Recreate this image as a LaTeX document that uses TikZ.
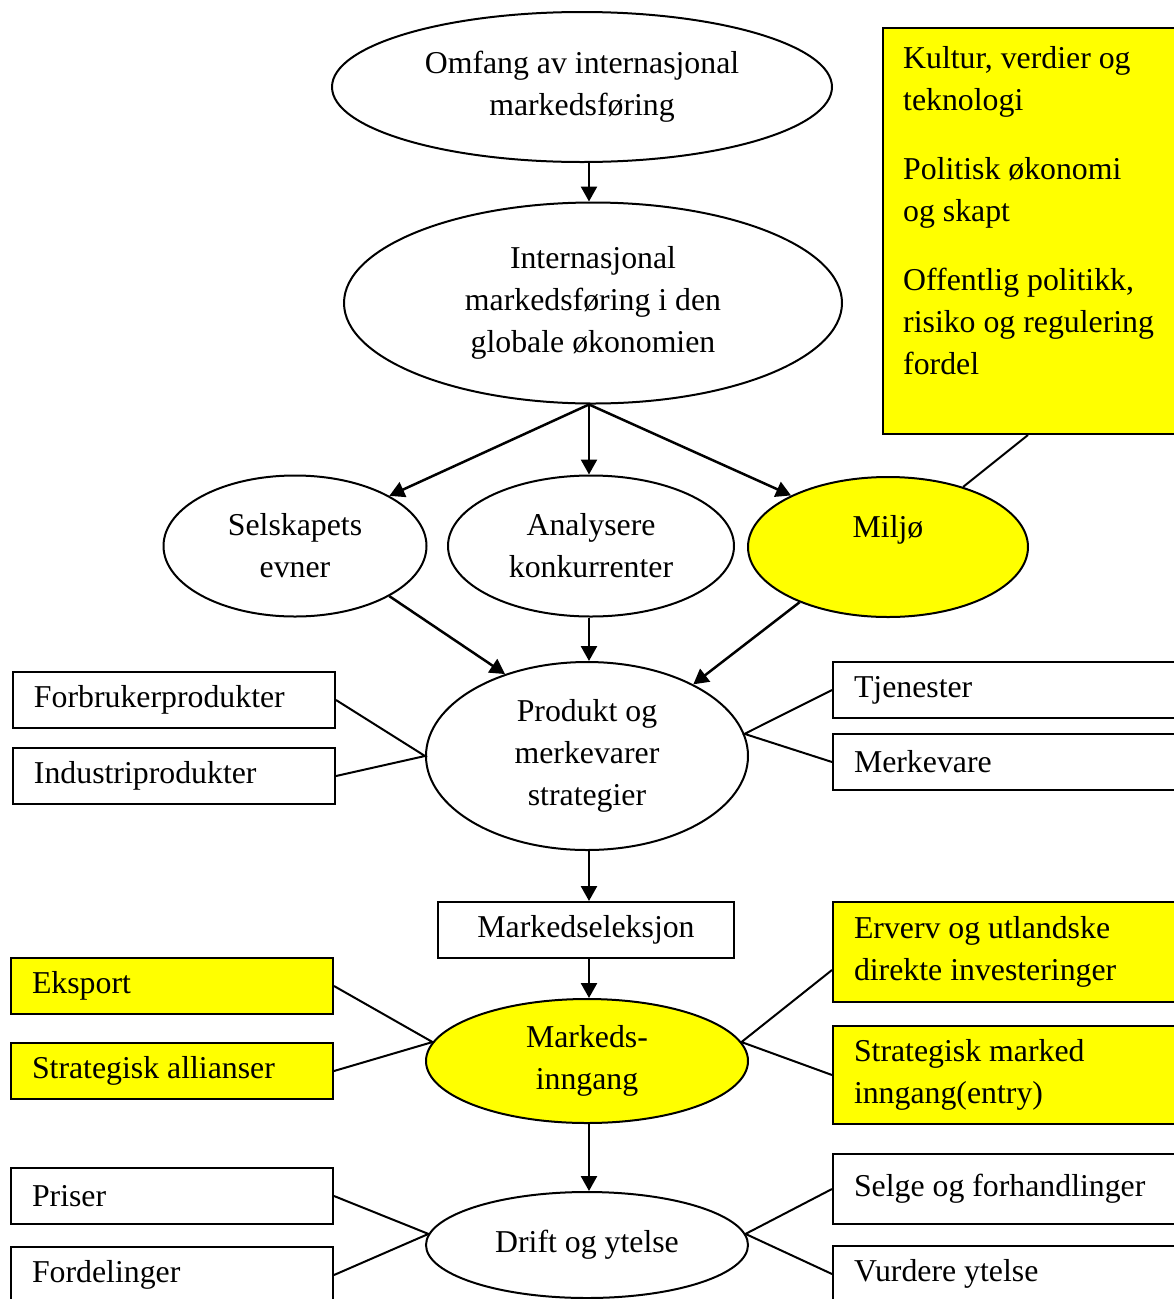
\documentclass[tikz,border=0pt]{standalone}
\usepackage{fontspec}
\setmainfont{Liberation Serif}
\usetikzlibrary{shapes.geometric,arrows.meta,positioning}
\definecolor{hl}{HTML}{FFFF00}

\begin{document}
\begin{tikzpicture}[
  x=1pt, y=-1pt,
  every node/.style={font=\fontsize{31.8}{42}\selectfont},
  ell/.style={draw, ellipse, line width=2pt, inner sep=0pt, align=center},
  box/.style={draw, line width=2pt, anchor=north west, inner xsep=21pt, inner ysep=0pt,
              align=flush left, text width=280pt, minimum height=56pt},
  wbox/.style={box, text width=320pt},
  cbox/.style={draw, line width=2pt, inner sep=0pt, minimum width=296pt, minimum height=56pt},
  arr/.style={-{Triangle[length=15pt,width=16pt]}, line width=2.5pt},
  ln/.style={line width=2pt}
]
\useasboundingbox (0,0) rectangle (1174,1299);
\clip (0,0) rectangle (1174,1299);
\coordinate (axis) at (589,0);

% top chain
\node[ell, minimum width=500pt, minimum height=150pt] (omfang) at (582,87) {Omfang av internasjonal\\markedsføring};
\node[ell, minimum width=498pt, minimum height=201pt] (intl) at (593,303) {Internasjonal\\markedsføring i den\\globale økonomien};
\node[ell, minimum width=263pt, minimum height=141pt] (selskap) at (295,546) {Selskapets\\evner};
\node[ell, minimum width=286pt, minimum height=141pt] (analyse) at (591,546) {Analysere\\konkurrenter};
\node[ell, fill=hl, minimum width=280pt, minimum height=140pt] (miljo) at (888,547) {Miljø\\\mbox{}};

% environment factors
\node[draw, line width=2pt, fill=hl, anchor=north west, minimum width=330pt, minimum height=406pt] (envbox) at (882,27) {};
\node[anchor=north west, align=flush left, inner sep=0pt] (envtxt) at (903,46) {Kultur, verdier og\\teknologi\\[27pt]Politisk økonomi\\og skapt\\[27pt]Offentlig politikk,\\risiko og regulering\\fordel};

% product level
\node[ell, minimum width=322pt, minimum height=188pt] (produkt) at (587,756) {Produkt og\\merkevarer\\strategier};
\node[box] (forbr) at (12,671) {Forbrukerprodukter};
\node[box] (indus) at (12,747) {Industriprodukter};
\node[wbox] (tjen) at (832,661) {Tjenester};
\node[wbox] (merke) at (832,733) {Merkevare};

% market entry
\node[cbox] (selek) at (586,930) {Markedseleksjon};
\node[ell, fill=hl, minimum width=322pt, minimum height=124pt] (inngang) at (587,1061) {Markeds-\\inngang};
\node[box, fill=hl] (eksport) at (10,957) {Eksport};
\node[box, fill=hl] (allianse) at (10,1042) {Strategisk allianser};
\node[wbox, fill=hl, minimum height=100pt] (erverv) at (832,901) {Erverv og utlandske\\direkte investeringer};
\node[wbox, fill=hl, minimum height=98pt] (entry) at (832,1025) {Strategisk marked\\inngang(entry)};

% operations
\node[ell, minimum width=322pt, minimum height=106pt] (drift) at (587,1245) {Drift og ytelse};
\node[box] (priser) at (10,1167) {Priser};
\node[box] (fordel) at (10,1246) {Fordelinger};
\node[wbox, minimum height=70pt] (selge) at (832,1153) {Selge og forhandlinger};
\node[wbox] (vurdere) at (832,1245) {Vurdere ytelse};

% arrows
\draw[arr] (omfang.south -| axis) -- (intl.north -| axis);
\draw[arr] (intl.south -| axis) -- (selskap.28);
\draw[arr] (intl.south -| axis) -- (analyse.north -| axis);
\draw[arr] (intl.south -| axis) -- (miljo.152);
\draw[arr] (selskap.-28) -- (produkt.135);
\draw[arr] (analyse.south -| axis) -- (produkt.north -| axis);
\draw[arr] (miljo.-148) -- (produkt.34);
\draw[arr] (produkt.south -| axis) -- (selek.north -| axis);
\draw[arr] (selek.south -| axis) -- (inngang.north -| axis);
\draw[arr] (inngang.south -| axis) -- (drift.north -| axis);

% side links
\draw[ln] ([xshift=146pt]envbox.south west) -- (miljo);
\draw[ln] (forbr.east) -- (produkt.west) -- (indus.east);
\draw[ln] (tjen.west) -- (produkt.8) -- (merke.west);
\draw[ln] (eksport.east) -- (inngang.173) -- (allianse.east);
\draw[ln] ([yshift=-18pt]erverv.west) -- (inngang.7) -- (entry.west);
\draw[ln] (priser.east) -- (drift.176) -- (fordel.east);
\draw[ln] (selge.west) -- (drift.4) -- (vurdere.west);
\end{tikzpicture}
\end{document}
